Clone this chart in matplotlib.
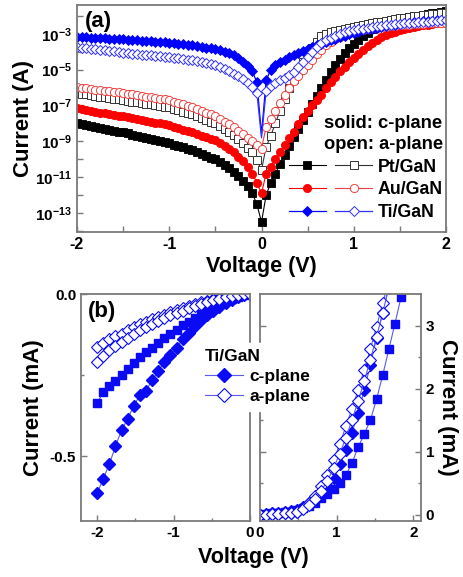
import numpy as np
import matplotlib
matplotlib.use('Agg')
import matplotlib.pyplot as plt
from matplotlib.legend_handler import HandlerTuple
from matplotlib.ticker import FixedLocator, FuncFormatter, NullFormatter

plt.rcParams.update({
    'font.family': ['Liberation Sans', 'DejaVu Sans'],
    'font.weight': 'bold',
    'axes.labelweight': 'bold',
    'axes.unicode_minus': False,
    'mathtext.fontset': 'custom',
    'mathtext.rm': 'Liberation Sans:bold',
    'mathtext.it': 'Liberation Sans:bold',
    'mathtext.bf': 'Liberation Sans:bold',
    'mathtext.sf': 'Liberation Sans:bold',
})

# ---------------- (a) log I-V data: log10(current in A) ----------------
voltage = np.linspace(-2, 2, 81)

log_pt_c = [-8.00, -8.05, -8.10, -8.15, -8.20, -8.25, -8.30, -8.35, -8.40, -8.45,
            -8.50, -8.56, -8.62, -8.68, -8.74, -8.80, -8.86, -8.92, -8.98, -9.04,
            -9.10, -9.18, -9.26, -9.34, -9.42, -9.50, -9.60, -9.70, -9.80, -9.90,
            -10.00, -10.15, -10.30, -10.50, -10.70, -10.95, -11.20, -11.50, -11.90, -12.50,
            -13.50,
            -12.00, -11.30, -10.80, -10.25, -9.75, -9.25, -8.75, -8.30, -7.80, -7.35,
            -6.90, -6.45, -6.00, -5.60, -5.15, -4.75, -4.40, -4.10, -3.80, -3.55,
            -3.35, -3.15, -2.95, -2.75, -2.60, -2.50, -2.40, -2.30, -2.23, -2.17,
            -2.12, -2.07, -2.03, -1.99, -1.95, -1.91, -1.87, -1.83, -1.79, -1.75]

log_pt_a = [-6.30, -6.34, -6.38, -6.42, -6.46, -6.50, -6.54, -6.58, -6.62, -6.66,
            -6.70, -6.74, -6.78, -6.82, -6.86, -6.90, -6.94, -6.98, -7.02, -7.06,
            -7.10, -7.18, -7.26, -7.34, -7.42, -7.50, -7.60, -7.70, -7.80, -7.90,
            -8.00, -8.15, -8.30, -8.47, -8.65, -8.87, -9.10, -9.35, -9.60, -10.05,
            -10.60,
            -9.30, -8.70, -8.00, -7.30, -6.65, -6.00, -5.50, -5.00, -4.60, -4.20,
            -3.80, -3.45, -3.15, -3.00, -2.90, -2.83, -2.77, -2.72, -2.67, -2.62,
            -2.57, -2.52, -2.47, -2.42, -2.37, -2.32, -2.27, -2.22, -2.18, -2.14,
            -2.10, -2.06, -2.03, -2.00, -1.97, -1.94, -1.91, -1.88, -1.85, -1.82]

log_au_c = [-7.15, -7.20, -7.25, -7.30, -7.35, -7.40, -7.44, -7.48, -7.52, -7.56,
            -7.60, -7.65, -7.70, -7.75, -7.80, -7.85, -7.90, -7.95, -8.00, -8.05,
            -8.10, -8.18, -8.26, -8.34, -8.42, -8.50, -8.59, -8.68, -8.77, -8.86,
            -8.95, -9.10, -9.25, -9.42, -9.60, -9.85, -10.10, -10.40, -10.80, -11.30,
            -11.90,
            -10.80, -10.40, -10.00, -9.60, -9.20, -8.80, -8.45, -8.05, -7.65, -7.30,
            -7.00, -6.70, -6.40, -6.05, -5.70, -5.40, -5.10, -4.85, -4.60, -4.35,
            -4.12, -3.90, -3.70, -3.50, -3.35, -3.20, -3.08, -2.97, -2.88, -2.80,
            -2.73, -2.67, -2.62, -2.57, -2.52, -2.49, -2.46, -2.43, -2.41, -2.39]

log_au_a = [-5.97, -6.01, -6.05, -6.08, -6.12, -6.15, -6.18, -6.21, -6.24, -6.27,
            -6.30, -6.34, -6.38, -6.42, -6.46, -6.50, -6.54, -6.58, -6.62, -6.66,
            -6.70, -6.78, -6.86, -6.94, -7.02, -7.10, -7.20, -7.30, -7.40, -7.50,
            -7.60, -7.75, -7.90, -8.05, -8.20, -8.40, -8.60, -8.80, -9.00, -9.20,
            -9.40,
            -8.20, -7.75, -7.30, -6.85, -6.40, -6.00, -5.65, -5.35, -5.05, -4.75,
            -4.45, -4.15, -3.90, -3.65, -3.45, -3.30, -3.17, -3.07, -2.98, -2.90,
            -2.84, -2.79, -2.74, -2.70, -2.66, -2.63, -2.60, -2.57, -2.55, -2.53,
            -2.51, -2.49, -2.47, -2.45, -2.44, -2.43, -2.42, -2.41, -2.40, -2.39]

log_ti_c = [-3.17, -3.19, -3.20, -3.22, -3.23, -3.25, -3.26, -3.28, -3.29, -3.31,
            -3.32, -3.34, -3.35, -3.37, -3.38, -3.40, -3.42, -3.44, -3.46, -3.48,
            -3.50, -3.53, -3.56, -3.59, -3.62, -3.65, -3.69, -3.73, -3.77, -3.81,
            -3.85, -3.92, -4.00, -4.10, -4.20, -4.35, -4.55, -4.80, -5.10, -5.70,
            -8.60,
            -5.60, -5.00, -4.75, -4.60, -4.45, -4.30, -4.20, -4.10, -3.98, -3.87,
            -3.76, -3.65, -3.55, -3.45, -3.36, -3.27, -3.18, -3.10, -3.02, -2.95,
            -2.88, -2.82, -2.76, -2.71, -2.66, -2.61, -2.57, -2.53, -2.49, -2.46,
            -2.43, -2.40, -2.37, -2.34, -2.31, -2.29, -2.27, -2.25, -2.23, -2.21]

log_ti_a = [-3.75, -3.78, -3.81, -3.84, -3.87, -3.90, -3.93, -3.96, -3.99, -4.02,
            -4.05, -4.08, -4.11, -4.14, -4.17, -4.19, -4.21, -4.23, -4.25, -4.27,
            -4.29, -4.33, -4.37, -4.41, -4.45, -4.49, -4.54, -4.59, -4.64, -4.69,
            -4.75, -4.85, -4.95, -5.08, -5.22, -5.38, -5.55, -5.75, -5.98, -6.30,
            -8.80,
            -6.20, -5.90, -5.75, -5.60, -5.45, -5.30, -5.15, -4.85, -4.60, -4.30,
            -4.00, -3.75, -3.50, -3.35, -3.22, -3.10, -3.00, -2.93, -2.87, -2.81,
            -2.76, -2.71, -2.67, -2.63, -2.59, -2.56, -2.53, -2.50, -2.47, -2.44,
            -2.42, -2.40, -2.38, -2.36, -2.34, -2.32, -2.30, -2.28, -2.26, -2.25]

# ---------------- (b) linear I-V of Ti/GaN (mA) ----------------
v_neg = np.linspace(-2, 0, 26)
i_neg_c1 = [-0.615, -0.570, -0.525, -0.470, -0.420, -0.385, -0.345, -0.312, -0.298, -0.266,
            -0.238, -0.210, -0.187, -0.165, -0.140, -0.120, -0.100, -0.080, -0.065, -0.053,
            -0.040, -0.029, -0.019, -0.010, -0.004, 0.000]
i_neg_c2 = [-0.337, -0.302, -0.283, -0.268, -0.250, -0.232, -0.212, -0.194, -0.178, -0.166,
            -0.150, -0.136, -0.123, -0.110, -0.097, -0.085, -0.073, -0.062, -0.051, -0.041,
            -0.032, -0.023, -0.015, -0.008, -0.003, 0.000]
i_neg_a1 = [-0.163, -0.150, -0.140, -0.131, -0.122, -0.112, -0.103, -0.094, -0.086, -0.078,
            -0.071, -0.064, -0.057, -0.050, -0.044, -0.038, -0.032, -0.026, -0.021, -0.016,
            -0.012, -0.008, -0.005, -0.003, -0.001, 0.000]
i_neg_a2 = [-0.209, -0.190, -0.174, -0.160, -0.147, -0.135, -0.123, -0.112, -0.102, -0.092,
            -0.083, -0.074, -0.066, -0.058, -0.051, -0.044, -0.037, -0.031, -0.025, -0.019,
            -0.014, -0.010, -0.006, -0.003, -0.001, 0.000]

v_pos_sq = np.linspace(0, 1.92, 25)
i_pos_c2 = [0.00, 0.01, 0.02, 0.03, 0.04, 0.05, 0.07, 0.10, 0.14, 0.19,
            0.26, 0.33, 0.41, 0.50, 0.63, 0.82, 1.07, 1.28, 1.50, 1.83,
            2.21, 2.62, 3.03, 3.45, 3.90]
v_pos_d = np.linspace(0, 1.68, 22)
i_pos_c1 = [0.00, 0.01, 0.02, 0.03, 0.04, 0.06, 0.08, 0.12, 0.18, 0.25,
            0.34, 0.45, 0.58, 0.80, 1.02, 1.30, 1.62, 1.98, 2.38, 2.80,
            3.20, 3.62]
i_pos_a1 = [0.00, 0.00, 0.01, 0.01, 0.02, 0.03, 0.05, 0.10, 0.18, 0.30,
            0.46, 0.63, 0.86, 1.12, 1.40, 1.68, 1.98, 2.30, 2.63, 2.98,
            3.35, 3.72]
i_pos_a2 = [0.00, 0.00, 0.01, 0.01, 0.02, 0.03, 0.05, 0.09, 0.15, 0.25,
            0.38, 0.54, 0.74, 0.97, 1.22, 1.50, 1.80, 2.12, 2.46, 2.82,
            3.20, 3.60]

SPINE = '#7a7a7a'
BLUE = '#0a0af5'
BLUE_LINE = '#5a5af0'

fig = plt.figure(figsize=(4.63, 5.77), dpi=100)
fig.patch.set_facecolor('white')


def style_axes(ax):
    for s in ax.spines.values():
        s.set_color(SPINE)
        s.set_linewidth(1.3)
    ax.tick_params(which='both', direction='in', color=SPINE, labelsize=10.5, width=1.0)
    ax.tick_params(which='major', length=4)
    ax.tick_params(which='minor', length=2.5)


# ================= panel (a) =================
ax = fig.add_axes([77 / 463, 1 - 232 / 577, (446 - 77) / 463, (232 - 5) / 577])
style_axes(ax)
ax.set_yscale('log')

skip0 = [i for i in range(len(voltage)) if i != 40]
ms = 5.4
l_pt_c, = ax.plot(voltage, 10 ** np.array(log_pt_c), '-s', color='black', lw=0.8, ms=ms,
                  mfc='black', mec='black', mew=0.6)
l_pt_a, = ax.plot(voltage, 10 ** np.array(log_pt_a), '-s', color='#333333', lw=0.8, ms=ms,
                  mfc='white', mec='#333333', mew=0.7)
l_au_c, = ax.plot(voltage, 10 ** np.array(log_au_c), '-o', color='red', lw=0.8, ms=ms + 0.5,
                  mfc='red', mec='red', mew=0.6)
l_au_a, = ax.plot(voltage, 10 ** np.array(log_au_a), '-o', color='#f04040', lw=0.8, ms=ms + 0.5,
                  mfc='white', mec='#f04040', mew=0.7)
l_ti_c, = ax.plot(voltage, 10 ** np.array(log_ti_c), '-D', color='#0000ff', lw=0.9, ms=ms,
                  mfc='#0000ff', mec='#0000ff', mew=0.6, markevery=skip0)
l_ti_a, = ax.plot(voltage, 10 ** np.array(log_ti_a), '-D', color='#3030ff', lw=0.9, ms=ms,
                  mfc='white', mec='#3030ff', mew=0.7, markevery=skip0)

ax.set_xlim(-2, 2)
ax.set_ylim(10 ** -14.05, 10 ** -1.4)
ax.xaxis.set_major_locator(FixedLocator([-2, -1, 0, 1, 2]))
ax.xaxis.set_minor_locator(FixedLocator([-1.5, -0.5, 0.5, 1.5]))
ax.xaxis.set_major_formatter(FuncFormatter(lambda v, p: '%d' % round(v)))
ax.yaxis.set_major_locator(FixedLocator([10.0 ** e for e in (-13, -11, -9, -7, -5, -3)]))
ax.yaxis.set_minor_locator(FixedLocator([10.0 ** e for e in (-14, -12, -10, -8, -6, -4, -2)]))
ax.yaxis.set_major_formatter(FuncFormatter(lambda v, p: r'$\mathbf{10^{%d}}$' % round(np.log10(v))))
ax.yaxis.set_minor_formatter(NullFormatter())
ax.tick_params(which='minor', length=4)
ax.tick_params(axis='y', labelsize=11)
ax.tick_params(axis='x', labelsize=11.5)
ax.set_xlabel('Voltage (V)', fontsize=15.5, fontweight='bold', labelpad=3)
ax.set_ylabel('Current (A)', fontsize=16, fontweight='bold', labelpad=1)
ax.text(0.02, 0.975, '(a)', transform=ax.transAxes, fontsize=16, fontweight='bold',
        va='top', ha='left')

leg = ax.legend([(l_pt_c, l_pt_a), (l_au_c, l_au_a), (l_ti_c, l_ti_a)],
                ['Pt/GaN', 'Au/GaN', 'Ti/GaN'],
                handler_map={tuple: HandlerTuple(ndivide=None, pad=0.5)},
                loc='lower right', bbox_to_anchor=(1.02, 0.0), frameon=False,
                prop={'size': 12.8, 'weight': 'bold'}, handlelength=4.7, handletextpad=0.3,
                labelspacing=0.33, borderaxespad=0.2, markerscale=1.0,
                title='solid: c-plane\nopen: a-plane',
                title_fontproperties={'size': 13.2, 'weight': 'bold'}, alignment='right')
leg.get_title().set_multialignment('left')
leg.get_title().set_linespacing(1.3)

# ================= panel (b) left =================
axl = fig.add_axes([81 / 463, 1 - 521 / 577, (250 - 81) / 463, (521 - 294) / 577])
style_axes(axl)
msb = 6.2
b_c1, = axl.plot(v_neg, i_neg_c1, '-D', color=BLUE_LINE, lw=0.8, ms=msb, mfc=BLUE, mec=BLUE)
b_c2, = axl.plot(v_neg, i_neg_c2, '-s', color=BLUE_LINE, lw=0.8, ms=msb - 0.7, mfc=BLUE, mec=BLUE)
b_a1, = axl.plot(v_neg, i_neg_a1, '-D', color=BLUE_LINE, lw=0.8, ms=msb, mfc='white', mec=BLUE, mew=0.8)
b_a2, = axl.plot(v_neg, i_neg_a2, '-D', color=BLUE_LINE, lw=0.8, ms=msb, mfc='white', mec=BLUE, mew=0.8)
axl.set_xlim(-2.21, 0)
axl.set_ylim(-0.70, 0)
axl.xaxis.set_major_locator(FixedLocator([-2, -1, 0]))
axl.xaxis.set_minor_locator(FixedLocator([-1.5, -0.5]))
axl.xaxis.set_major_formatter(FuncFormatter(lambda v, p: '%d' % round(v)))
axl.yaxis.set_major_locator(FixedLocator([-0.5, 0.0]))
axl.yaxis.set_minor_locator(FixedLocator([-0.25]))
axl.yaxis.set_major_formatter(FuncFormatter(lambda v, p: '%.1f' % v))
axl.tick_params(labelsize=11)
axl.set_ylabel('Current (mA)', fontsize=16, fontweight='bold', labelpad=4)
axl.text(0.04, 0.97, '(b)', transform=axl.transAxes, fontsize=16, fontweight='bold',
         va='top', ha='left')

# ================= panel (b) right =================
axr = fig.add_axes([260 / 463, 1 - 521 / 577, (421 - 260) / 463, (521 - 294) / 577])
style_axes(axr)
axr.plot(v_pos_d, i_pos_c1, '-D', color=BLUE_LINE, lw=0.8, ms=msb, mfc=BLUE, mec=BLUE)
axr.plot(v_pos_sq, i_pos_c2, '-s', color=BLUE_LINE, lw=0.8, ms=msb - 0.7, mfc=BLUE, mec=BLUE)
axr.plot(v_pos_d, i_pos_a1, '-D', color=BLUE_LINE, lw=0.8, ms=msb, mfc='white', mec=BLUE, mew=0.8)
axr.plot(v_pos_d, i_pos_a2, '-D', color=BLUE_LINE, lw=0.8, ms=msb, mfc='white', mec=BLUE, mew=0.8)
axr.set_xlim(0, 2.1)
axr.set_ylim(-0.1, 3.5)
axr.xaxis.set_major_locator(FixedLocator([0, 1, 2]))
axr.xaxis.set_minor_locator(FixedLocator([0.5, 1.5]))
axr.xaxis.set_major_formatter(FuncFormatter(lambda v, p: '%d' % round(v)))
axr.yaxis.set_major_locator(FixedLocator([0, 1, 2, 3]))
axr.yaxis.set_minor_locator(FixedLocator([0.5, 1.5, 2.5]))
axr.yaxis.set_major_formatter(FuncFormatter(lambda v, p: '%d' % round(v)))
axr.yaxis.tick_right()
axr.tick_params(axis='y', which='both', left=True, right=True, labelleft=False, labelright=True)
axr.tick_params(labelsize=11)
axr.yaxis.set_label_position('right')
axr.set_ylabel('Current (mA)', fontsize=16, fontweight='bold', rotation=270, labelpad=17)

fig.text(253 / 463, 1 - 557 / 577, 'Voltage (V)', fontsize=15.5, fontweight='bold',
         ha='center', va='center')

lb = fig.legend([b_c1, b_a1], ['c-plane', 'a-plane'], loc='upper left',
                bbox_to_anchor=(190 / 463, 1 - 334 / 577), frameon=True, facecolor='white',
                edgecolor='white', framealpha=1.0, fancybox=False,
                prop={'size': 12.5, 'weight': 'bold'}, handlelength=2.2, handletextpad=0.35,
                labelspacing=0.3, borderpad=0.35, markerscale=1.2,
                title='Ti/GaN', title_fontproperties={'size': 12.5, 'weight': 'bold'},
                alignment='left')

fig.savefig('out.png', dpi=100, facecolor='white')
